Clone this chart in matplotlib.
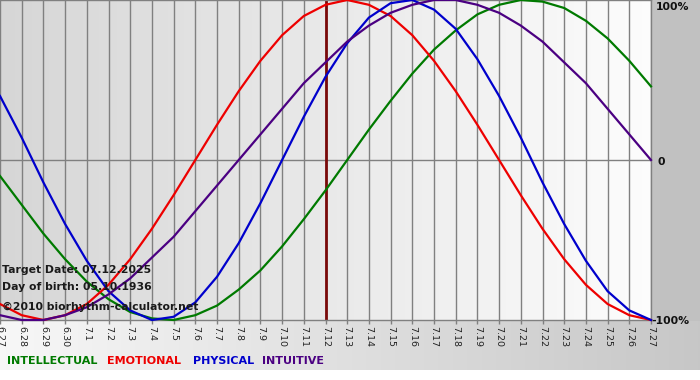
import numpy as np
import matplotlib
matplotlib.use("Agg")
import matplotlib.pyplot as plt

dates = ["6.27", "6.28", "6.29", "6.30", "7.1", "7.2", "7.3", "7.4", "7.5", "7.6", "7.7",
         "7.8", "7.9", "7.10", "7.11", "7.12", "7.13", "7.14", "7.15", "7.16", "7.17",
         "7.18", "7.19", "7.20", "7.21", "7.22", "7.23", "7.24", "7.25", "7.26", "7.27"]

physical = [0.40, 0.14, -0.14, -0.40, -0.63, -0.82, -0.94, -1.00, -0.98, -0.89, -0.73,
            -0.52, -0.27, 0.00, 0.27, 0.52, 0.73, 0.89, 0.98, 1.00, 0.94,
            0.82, 0.63, 0.40, 0.14, -0.14, -0.40, -0.63, -0.82, -0.94, -1.00]
emotional = [-0.90, -0.97, -1.00, -0.97, -0.90, -0.78, -0.62, -0.43, -0.22, 0.00, 0.22,
             0.43, 0.62, 0.78, 0.90, 0.97, 1.00, 0.97, 0.90, 0.78, 0.62,
             0.43, 0.22, 0.00, -0.22, -0.43, -0.62, -0.78, -0.90, -0.97, -1.00]
intellectual = [-0.10, -0.28, -0.46, -0.62, -0.76, -0.87, -0.95, -0.99, -1.00, -0.97, -0.91,
                -0.81, -0.69, -0.54, -0.37, -0.19, 0.00, 0.19, 0.37, 0.54, 0.69,
                0.81, 0.91, 0.97, 1.00, 0.99, 0.95, 0.87, 0.76, 0.62, 0.46]
intuitive = [-0.97, -1.00, -1.00, -0.97, -0.92, -0.84, -0.74, -0.61, -0.48, -0.32, -0.16,
             0.00, 0.16, 0.32, 0.48, 0.61, 0.74, 0.84, 0.92, 0.97, 1.00,
             1.00, 0.97, 0.92, 0.84, 0.74, 0.61, 0.48, 0.32, 0.16, 0.00]
target_date = "7.12"
info_lines = ["Target Date: 07.12.2025", "Day of birth: 05.10.1936", "\u00a92010 biorhythm-calculator.net"]
legend_names = ["INTELLECTUAL", "EMOTIONAL", "PHYSICAL", "INTUITIVE"]

W, H = 700, 380
fig = plt.figure(figsize=(W / 100, H / 100), dpi=100)
fig.patch.set_facecolor("white")

# background (right margin + footer gradient)
bg = np.ones((H, W, 3))
xs = np.linspace(0, 1, W)
foot = 0.97 - 0.19 * xs
bg[:370, :, :] = foot[None, :, None]
bg[:321, 651:, :] = 0.76
bax = fig.add_axes([0, 0, 1, 1], zorder=-5)
bax.imshow(bg, aspect="auto", extent=(0, W, H, 0))
bax.set_axis_off()

# plot axes
left, right, top, bottom = 0, 651, 0, 320
ax = fig.add_axes([left / W, 1 - bottom / H, (right - left) / W, (bottom - top) / H])
x = np.arange(len(dates))
ax.set_xlim(0, len(dates) - 1)
ax.set_ylim(-1.0, 1.0)
grad = np.linspace(0.84, 0.99, 256)[None, :]
ax.imshow(np.dstack([grad, grad, grad]), aspect="auto",
          extent=(0, len(dates) - 1, -1.0, 1.0), zorder=0)

for xi in x:
    ax.axvline(xi, color="#808080", lw=1.0, zorder=1)
ax.axhline(0, color="#808080", lw=1.0, zorder=1)

ti = dates.index(target_date)
ax.axvline(ti, color="#7a0a0a", lw=2.0, zorder=2)

ax.plot(x, intellectual, color="#007a00", lw=1.6, zorder=3, clip_on=False)
ax.plot(x, emotional, color="#ee0000", lw=1.6, zorder=3, clip_on=False)
ax.plot(x, physical, color="#0000cc", lw=1.6, zorder=3, clip_on=False)
ax.plot(x, intuitive, color="#4b0082", lw=1.6, zorder=3, clip_on=False)

ax.set_xticks(x)
ax.set_xticklabels(dates, rotation=-90, fontsize=6.8, color="#222222")
ax.tick_params(axis="x", direction="out", length=3, width=1, color="#808080", pad=1)
ax.set_yticks([])
ax.spines["left"].set_visible(False)
for s in ["top", "bottom", "right"]:
    ax.spines[s].set_color("#808080")
    ax.spines[s].set_linewidth(1.0)

# info text
for t, yy in zip(info_lines, [270, 287, 307]):
    fig.text(2 / W, 1 - yy / H, t, fontsize=7.8, fontweight="bold", color="#1a1a1a",
             va="center", ha="left", zorder=10)

# right labels
fig.text(656 / W, 1 - 7 / H, "100%", fontsize=7.8, fontweight="bold", color="#111111", va="center")
fig.text(658 / W, 1 - 162 / H, "0", fontsize=7.8, fontweight="bold", color="#111111", va="center")
fig.text(651 / W, 1 - 321 / H, "-100%", fontsize=7.8, fontweight="bold", color="#111111", va="center")

# legend
leg_colors = ["#007a00", "#ee0000", "#0000cc", "#4b0082"]
leg_x = [7, 107, 193, 262]
for name, c, lx in zip(legend_names, leg_colors, leg_x):
    fig.text(lx / W, 1 - 361 / H, name, fontsize=8.0, fontweight="bold", color=c,
             va="center", ha="left")

fig.savefig("out.png", dpi=100)
